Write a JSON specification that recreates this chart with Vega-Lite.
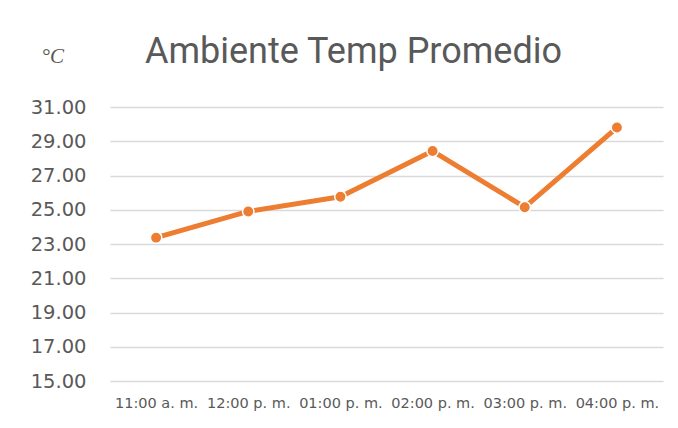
{
  "$schema": "https://vega.github.io/schema/vega-lite/v6.json",
  "width": 553,
  "height": 274,
  "autosize": {"type": "none"},
  "padding": {"left": 110, "top": 107, "right": 15, "bottom": 47},
  "background": "white",
  "title": {
    "text": "Ambiente Temp Promedio",
    "anchor": "start",
    "frame": "group",
    "dx": 35,
    "offset": -54,
    "baseline": "alphabetic",
    "font": "Roboto",
    "fontSize": 36,
    "fontWeight": "normal",
    "color": "#595959"
  },
  "data": {
    "values": [
      {"hora": "11:00 a. m.", "temp": 23.37},
      {"hora": "12:00 p. m.", "temp": 24.9},
      {"hora": "01:00 p. m.", "temp": 25.76},
      {"hora": "02:00 p. m.", "temp": 28.43},
      {"hora": "03:00 p. m.", "temp": 25.15},
      {"hora": "04:00 p. m.", "temp": 29.8}
    ]
  },
  "encoding": {
    "x": {
      "field": "hora",
      "type": "ordinal",
      "sort": null,
      "scale": {"type": "point", "padding": 0.5},
      "axis": {
        "title": null,
        "labelAngle": 0,
        "domain": false,
        "ticks": false,
        "grid": false,
        "labelFont": "DejaVu Sans",
        "labelFontSize": 14.5,
        "labelColor": "#595959",
        "labelPadding": 15
      }
    },
    "y": {
      "field": "temp",
      "type": "quantitative",
      "scale": {"domain": [15, 31], "nice": false, "zero": false},
      "axis": {
        "title": "°C",
        "titleAngle": 0,
        "titleX": -69,
        "titleY": -51,
        "titleAlign": "left",
        "titleBaseline": "middle",
        "titleFont": "Liberation Serif",
        "titleFontStyle": "italic",
        "titleFontWeight": "normal",
        "titleFontSize": 21,
        "titleColor": "#595959",
        "values": [15, 17, 19, 21, 23, 25, 27, 29, 31],
        "format": ".2f",
        "domain": false,
        "ticks": false,
        "grid": true,
        "gridColor": "#D9D9D9",
        "gridWidth": 1.5,
        "labelFont": "DejaVu Sans",
        "labelFontSize": 19.5,
        "labelColor": "#595959",
        "labelPadding": 24
      }
    }
  },
  "layer": [
    {
      "mark": {"type": "line", "color": "#ED7D31", "strokeWidth": 5, "strokeCap": "round", "strokeJoin": "round"}
    },
    {
      "mark": {"type": "point", "filled": true, "shape": "circle", "size": 130, "color": "#ED7D31", "stroke": "white", "strokeWidth": 1.5, "opacity": 1}
    }
  ],
  "config": {"view": {"stroke": null}}
}
